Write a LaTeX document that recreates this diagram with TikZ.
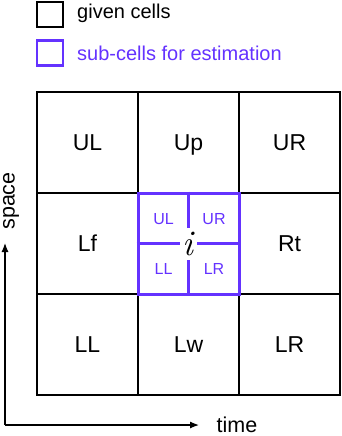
\documentclass[tikz,border=0pt]{standalone}
\usepackage{fontspec}
\setmainfont{Liberation Sans}
\newfontfamily\lmrom{Latin Modern Roman}
\usetikzlibrary{arrows.meta}
\definecolor{subc}{RGB}{100,50,255}
\begin{document}
\begin{tikzpicture}[x=1pt,y=-1pt,
  cell/.style={draw=black,line width=2pt,minimum width=101pt,minimum height=101pt,inner sep=0pt,text height=16.5pt,text depth=0pt,font=\fontsize{23}{23}\selectfont},
  sublabel/.style={text=subc,inner sep=0pt,text height=11.5pt,text depth=0pt,font=\fontsize{16}{16}\selectfont},
  subline/.style={draw=subc,line width=3pt},
  legbox/.style={minimum width=26pt,minimum height=25pt,inner sep=0pt,line width=2.5pt},
  legtext/.style={anchor=base west,inner sep=0pt,font=\fontsize{20}{20}\selectfont},
  axis/.style={line width=1.2pt,-{Latex[length=9pt,width=7pt]}},
  axlabel/.style={inner sep=0pt,font=\fontsize{21.5}{21.5}\selectfont}]
\useasboundingbox (0,0) rectangle (342,436);
% legend
\node[legbox,draw=black] (lb1) at (50,14.5) {};
\node[legtext] (lt1) at (77,18.5) {given cells};
\node[legbox,draw=subc] (lb2) at (50,53) {};
\node[legtext,text=subc] (lt2) at (77,60.5) {sub-cells for estimation};
% grid
\node[cell] (UL) at (87.5,142.5) {UL};
\node[cell] (Up) at (188.5,142.5) {Up};
\node[cell] (UR) at (289.5,142.5) {UR};
\node[cell] (Lf) at (87.5,243.5) {Lf};
\node[cell] (C)  at (188.5,243.5) {};
\node[cell] (Rt) at (289.5,243.5) {Rt};
\node[cell] (LL) at (87.5,344.5) {LL};
\node[cell] (Lw) at (188.5,344.5) {Lw};
\node[cell] (LR) at (289.5,344.5) {LR};
% sub-cells
\node[subline,minimum width=101pt,minimum height=101pt,inner sep=0pt] (S) at (C.center) {};
\draw[subline] (S.north) -- (S.south);
\draw[subline] (S.west) -- (S.east);
\node[fill=white,minimum width=17pt,minimum height=32pt,inner sep=0pt] (gap) at (188.5,244) {};
\node[anchor=base,inner sep=0pt,font=\fontsize{36}{36}\lmrom\itshape] (i) at (188,255.5) {i};
\node[sublabel] (sUL) at (163.5,219) {UL};
\node[sublabel] (sUR) at (214,219) {UR};
\node[sublabel] (sLL) at (163.5,269) {LL};
\node[sublabel] (sLR) at (214,269) {LR};
% axes
\coordinate (O) at (5,425);
\coordinate (Ytip) at (5,243);
\coordinate (Xtip) at (199,425);
\draw[axis] (O) -- (Ytip);
\draw[axis] (O) -- (Xtip);
\node[axlabel,anchor=base,text height=16pt,text depth=0pt] (time) at (237,432) {time};
\node[axlabel,rotate=90,anchor=base,text height=11.5pt,text depth=4.5pt] (space) at (14.5,201) {space};
\end{tikzpicture}
\end{document}
